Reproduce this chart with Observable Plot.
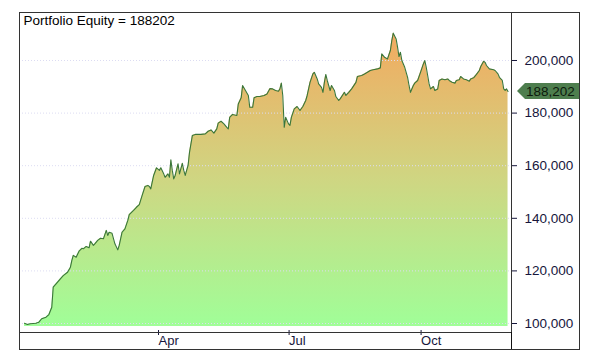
<!DOCTYPE html>
<html>
<head>
<meta charset="utf-8">
<script src="https://cdn.jsdelivr.net/npm/d3@7"></script>
<script src="https://cdn.jsdelivr.net/npm/@observablehq/plot@0.6"></script>
<style>
  html, body { margin: 0; padding: 0; background: #fff; }
  #wrap { position: relative; width: 599px; height: 360px; }
  #wrap svg { position: absolute; left: 0; top: 0; }
  .outer { position: absolute; left: 19px; top: 12px; width: 561px; height: 338px; border: 1px solid #333; box-sizing: border-box; pointer-events: none; }
  .axisline { position: absolute; left: 511px; top: 332px; width: 1px; height: 17px; background: #111; }
</style>
</head>
<body>
<div id="wrap"></div>
<script>
// Day offsets from 1 Jan (year of the equity curve)
const days = [-2,0,2,6,8,10,13,15,17,18,20,23,25,28,30,31,32,34,36,38,39,41,43,44,46,47,49,51,53,55,56,57,59,61,63,64,66,68,70,71,74,76,78,80,82,84,
85,86,88,90,92,93,95,96,98,99,100,101,102,103,105,106,108,109,110,112,113,115,117,121,124,126,128,130,132,133,135,137,139,140,141,143,146,147,149,150,152,154,155,157,158,160,162,165,167,169,
171,173,175,176,177,178,179,180,182,183,184,186,188,190,192,194,195,197,199,200,202,203,205,206,207,208,209,211,212,214,215,217,
218,221,222,224,226,229,230,233,235,237,239,241,244,246,247,249,251,253,254,255,257,258,259,260,261,263,265,266,267,269,270,272,274,276,277,278,279,280,281,283,284,286,287,289,291,293,294,296,298,299,301,302,304,306,308,309,311,313,315,316,318,319,320,322,325,326,328,329,331,332,333,334,335];

// Portfolio equity
const equity = [100100,99600,99900,100100,100500,101800,102400,103400,106200,113800,115100,117000,118200,119500,121400,124000,125900,125200,127500,128600,128400,129300,128800,131300,129700,130300,131600,132400,132200,135400,133500,134700,134300,130300,128000,129700,134700,136000,139200,141400,143000,144200,145200,148700,152100,152500,
152100,151200,156300,159200,158200,159200,156900,155600,156900,155600,162200,158200,155000,156300,160700,156900,160900,158200,156300,160100,165100,171500,171900,171900,172100,173100,173600,172400,174000,176200,176900,175900,174600,174000,178400,179500,179100,183500,185800,190500,188600,186700,182200,182200,185800,186300,186300,186700,187300,189300,
189200,188600,188300,189200,191400,186700,174600,178400,175900,175300,178400,181600,182500,181000,182500,184800,186700,191700,194900,195500,193000,191100,189800,187900,191700,194700,192400,188600,190500,188600,186300,184800,
185400,187900,186700,187900,189200,191700,193900,194300,194900,195500,196200,196500,196800,197200,202500,201200,200600,203800,207600,210400,208200,205100,201500,203100,200000,197400,193600,190500,187900,190500,191400,192400,195500,198700,200000,197400,194300,191100,189200,190100,188600,189200,192400,193000,192700,193000,192400,191700,191400,192400,192700,193900,193000,192700,192100,193000,193400,194700,196200,197700,199700,199300,198100,196800,196500,196200,194900,193600,192400,189200,188600,189200,188202];

const yTicks = [100000, 120000, 140000, 160000, 180000, 200000];
const xTicks = ["2021-04-01", "2021-07-01", "2021-10-01"];
const xDomain = ["2020-12-26T12:00Z", "2021-12-04T10:00Z"];
const yDomain = [96580, 218250];
const areaBase = 98900;
const titleText = "Portfolio Equity";

const startDate = Date.UTC(2021, 0, 1);
const data = days.map((d, i) => ({date: new Date(startDate + d * 864e5), value: equity[i]}));
const last = equity[equity.length - 1];

const chart = Plot.plot({
  width: 599,
  height: 360,
  marginLeft: 19,
  marginRight: 88,
  marginTop: 12,
  marginBottom: 28,
  style: {fontFamily: "'Liberation Sans', Arial, sans-serif", fontSize: "13px", color: "#16163c", background: "transparent", overflow: "visible"},
  x: {type: "utc", domain: xDomain.map(d => new Date(d))},
  y: {domain: yDomain},
  marks: [
    Plot.areaY(data, {x: "date", y1: areaBase, y2: "value", fill: "url(#eqGrad)"}),
    Plot.gridY(yTicks, {stroke: "#dcdcf2", strokeOpacity: 1, strokeDasharray: "1,2"}),
    Plot.lineY(data, {x: "date", y: "value", stroke: "#3a763a", strokeWidth: 1.1}),
    Plot.axisY(yTicks, {anchor: "right", tickSize: 5, tickPadding: 8, tickFormat: d3.format(","), label: null, fontSize: 13.5}),
    Plot.axisX(xTicks.map(d => new Date(d)), {anchor: "bottom", tickSize: 5, tickPadding: 0, dy: -2, dx: 2, textAnchor: "start", tickFormat: d3.utcFormat("%b"), label: null, fontSize: 13}),
    Plot.frame({stroke: "#333"}),
    Plot.text([`${titleText} = ${last}`], {frameAnchor: "top-left", textAnchor: "start", lineAnchor: "top", dx: 4, dy: 3, fill: "#000", fontSize: 13.5})
  ]
});

// gradient definition
const ns = "http://www.w3.org/2000/svg";
const defs = document.createElementNS(ns, "defs");
const grad = document.createElementNS(ns, "linearGradient");
grad.setAttribute("id", "eqGrad");
grad.setAttribute("x1", "0"); grad.setAttribute("y1", "1");
grad.setAttribute("x2", "0"); grad.setAttribute("y2", "0");
[["0", "#a0fe98"], ["0.5", "#cfd682"], ["1", "#f2aa60"]].forEach(([o, c]) => {
  const s = document.createElementNS(ns, "stop");
  s.setAttribute("offset", o); s.setAttribute("stop-color", c);
  grad.appendChild(s);
});
defs.appendChild(grad);
chart.insertBefore(defs, chart.firstChild);

// last value marker on right axis
const yPos = chart.scale("y").apply(last);
const xAxis = 511;
const g = document.createElementNS(ns, "g");
const poly = document.createElementNS(ns, "polygon");
const pts = [[xAxis + 6, yPos], [xAxis + 14, yPos - 8], [580, yPos - 8], [580, yPos + 8], [xAxis + 14, yPos + 8]];
poly.setAttribute("points", pts.map(p => p.join(",")).join(" "));
poly.setAttribute("fill", "#4e7e4e");
g.appendChild(poly);
const t = document.createElementNS(ns, "text");
t.setAttribute("x", xAxis + 15);
t.setAttribute("y", yPos);
t.setAttribute("dy", "0.36em");
t.setAttribute("text-anchor", "start");
t.setAttribute("fill", "#0c1a0c");
t.setAttribute("font-size", "13.5");
t.textContent = d3.format(",")(last);
g.appendChild(t);
chart.appendChild(g);

const wrap = document.getElementById("wrap");
wrap.appendChild(chart);
const outer = document.createElement("div"); outer.className = "outer"; wrap.appendChild(outer);
const al = document.createElement("div"); al.className = "axisline"; wrap.appendChild(al);
</script>
</body>
</html>
